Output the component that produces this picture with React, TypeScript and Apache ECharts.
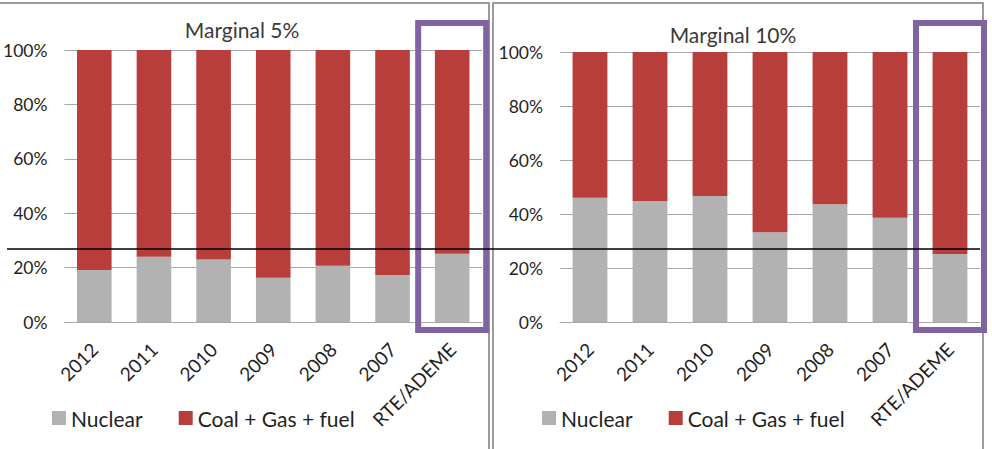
import React, { useEffect, useRef } from "react";
import * as echarts from "echarts";

const categories = ["2012", "2011", "2010", "2009", "2008", "2007", "RTE/ADEME"];
const nuclear5 = [19.1, 24.0, 23.0, 16.3, 20.7, 17.3, 25.1];
const fossil5 = [80.9, 76.0, 77.0, 83.7, 79.3, 82.7, 74.9];
const nuclear10 = [46.0, 44.8, 46.7, 33.2, 43.6, 38.6, 25.2];
const fossil10 = [54.0, 55.2, 53.3, 66.8, 56.4, 61.4, 74.8];
const yTicks = [0, 20, 40, 60, 80, 100];
const titles = ["Marginal 5%", "Marginal 10%"];
const seriesNames = ["Nuclear", "Coal + Gas + fuel"];
const threshold = 26.8;
const highlighted = "RTE/ADEME";

const FONT = "Lato, 'Open Sans', sans-serif";
const GRAY = "#B2B2B2";
const RED = "#B73E3B";
const PURPLE = "#8064A2";
const GRID = "#A8A8A8";
const TEXT = "#1f1f1f";

export default function App() {
  const ref = useRef<HTMLDivElement>(null);

  useEffect(() => {
    if (!ref.current) return;
    const chart = echarts.init(ref.current, undefined, { renderer: "svg" });

    const grids = [
      { left: 62, top: 50, width: 420, height: 272 },
      { left: 560, top: 52, width: 420, height: 270 },
    ];

    const xAxis = grids.map((_, i) => ({
      type: "category",
      gridIndex: i,
      data: categories,
      axisLine: { show: true, lineStyle: { color: GRID, width: 1 } },
      axisTick: { show: false },
      axisLabel: {
        rotate: 45,
        interval: 0,
        margin: 24,
        fontSize: 19,
        fontFamily: FONT,
        color: TEXT,
      },
    }));

    const yAxis = grids.map((_, i) => ({
      type: "value",
      gridIndex: i,
      min: yTicks[0],
      max: yTicks[yTicks.length - 1],
      interval: yTicks[1] - yTicks[0],
      axisLine: { show: false },
      axisTick: { show: false },
      splitLine: { show: true, lineStyle: { color: GRID, width: 1 } },
      axisLabel: {
        margin: 17,
        fontSize: 17.5,
        fontFamily: FONT,
        color: TEXT,
        formatter: (v: number) => `${v}%`,
      },
    }));

    const panels = [
      { n: nuclear5, f: fossil5 },
      { n: nuclear10, f: fossil10 },
    ];
    const series: any[] = [];
    panels.forEach((p, i) => {
      series.push({
        name: seriesNames[0],
        type: "bar",
        xAxisIndex: i,
        yAxisIndex: i,
        stack: "s" + i,
        barWidth: "58%",
        itemStyle: { color: GRAY },
        data: p.n,
      });
      series.push({
        name: seriesNames[1],
        type: "bar",
        xAxisIndex: i,
        yAxisIndex: i,
        stack: "s" + i,
        barWidth: "58%",
        itemStyle: { color: RED },
        data: p.f,
      });
    });

    const legendCommon = {
      data: seriesNames,
      icon: "rect",
      itemWidth: 14,
      itemHeight: 14,
      itemGap: 36,
      top: 401,
      textStyle: { fontSize: 21, fontFamily: FONT, color: TEXT, lineHeight: 24 },
    };

    chart.setOption({
      animation: false,
      backgroundColor: "#ffffff",
      title: [
        {
          text: titles[0],
          left: 237,
          top: 14,
          textAlign: "center",
          textStyle: { fontSize: 21, fontWeight: "normal", fontFamily: FONT, color: "#3a3a3a" },
        },
        {
          text: titles[1],
          left: 728,
          top: 19,
          textAlign: "center",
          textStyle: { fontSize: 21, fontWeight: "normal", fontFamily: FONT, color: "#3a3a3a" },
        },
      ],
      legend: [
        { ...legendCommon, left: 47 },
        { ...legendCommon, left: 537 },
      ],
      grid: grids,
      xAxis,
      yAxis,
      series,
    });

    // Annotations positioned through the axes' scales
    const yLine = chart.convertToPixel({ yAxisIndex: 0 }, threshold) as number;
    const boxes = [0, 1].map((i) => {
      const cx = chart.convertToPixel({ xAxisIndex: i }, highlighted) as number;
      return {
        type: "rect",
        shape: { x: cx - 34, y: 23, width: 68, height: 307 },
        style: { fill: "none", stroke: PURPLE, lineWidth: 6 },
        z: 20,
      };
    });

    chart.setOption({
      graphic: [
        {
          type: "rect",
          shape: { x: -2, y: 3, width: 491, height: 460 },
          style: { fill: "none", stroke: "#9C9C9C", lineWidth: 2 },
          z: 1,
        },
        {
          type: "rect",
          shape: { x: 493, y: 3, width: 490, height: 460 },
          style: { fill: "none", stroke: "#9C9C9C", lineWidth: 2 },
          z: 1,
        },
        ...boxes,
        {
          type: "line",
          shape: { x1: 7, y1: yLine, x2: 980, y2: yLine },
          style: { stroke: "#000000", lineWidth: 1.5 },
          z: 30,
        },
      ],
    });

    return () => chart.dispose();
  }, []);

  return (
    <div
      ref={ref}
      style={{ position: "fixed", left: 0, top: 0, width: 992, height: 449 }}
    />
  );
}
